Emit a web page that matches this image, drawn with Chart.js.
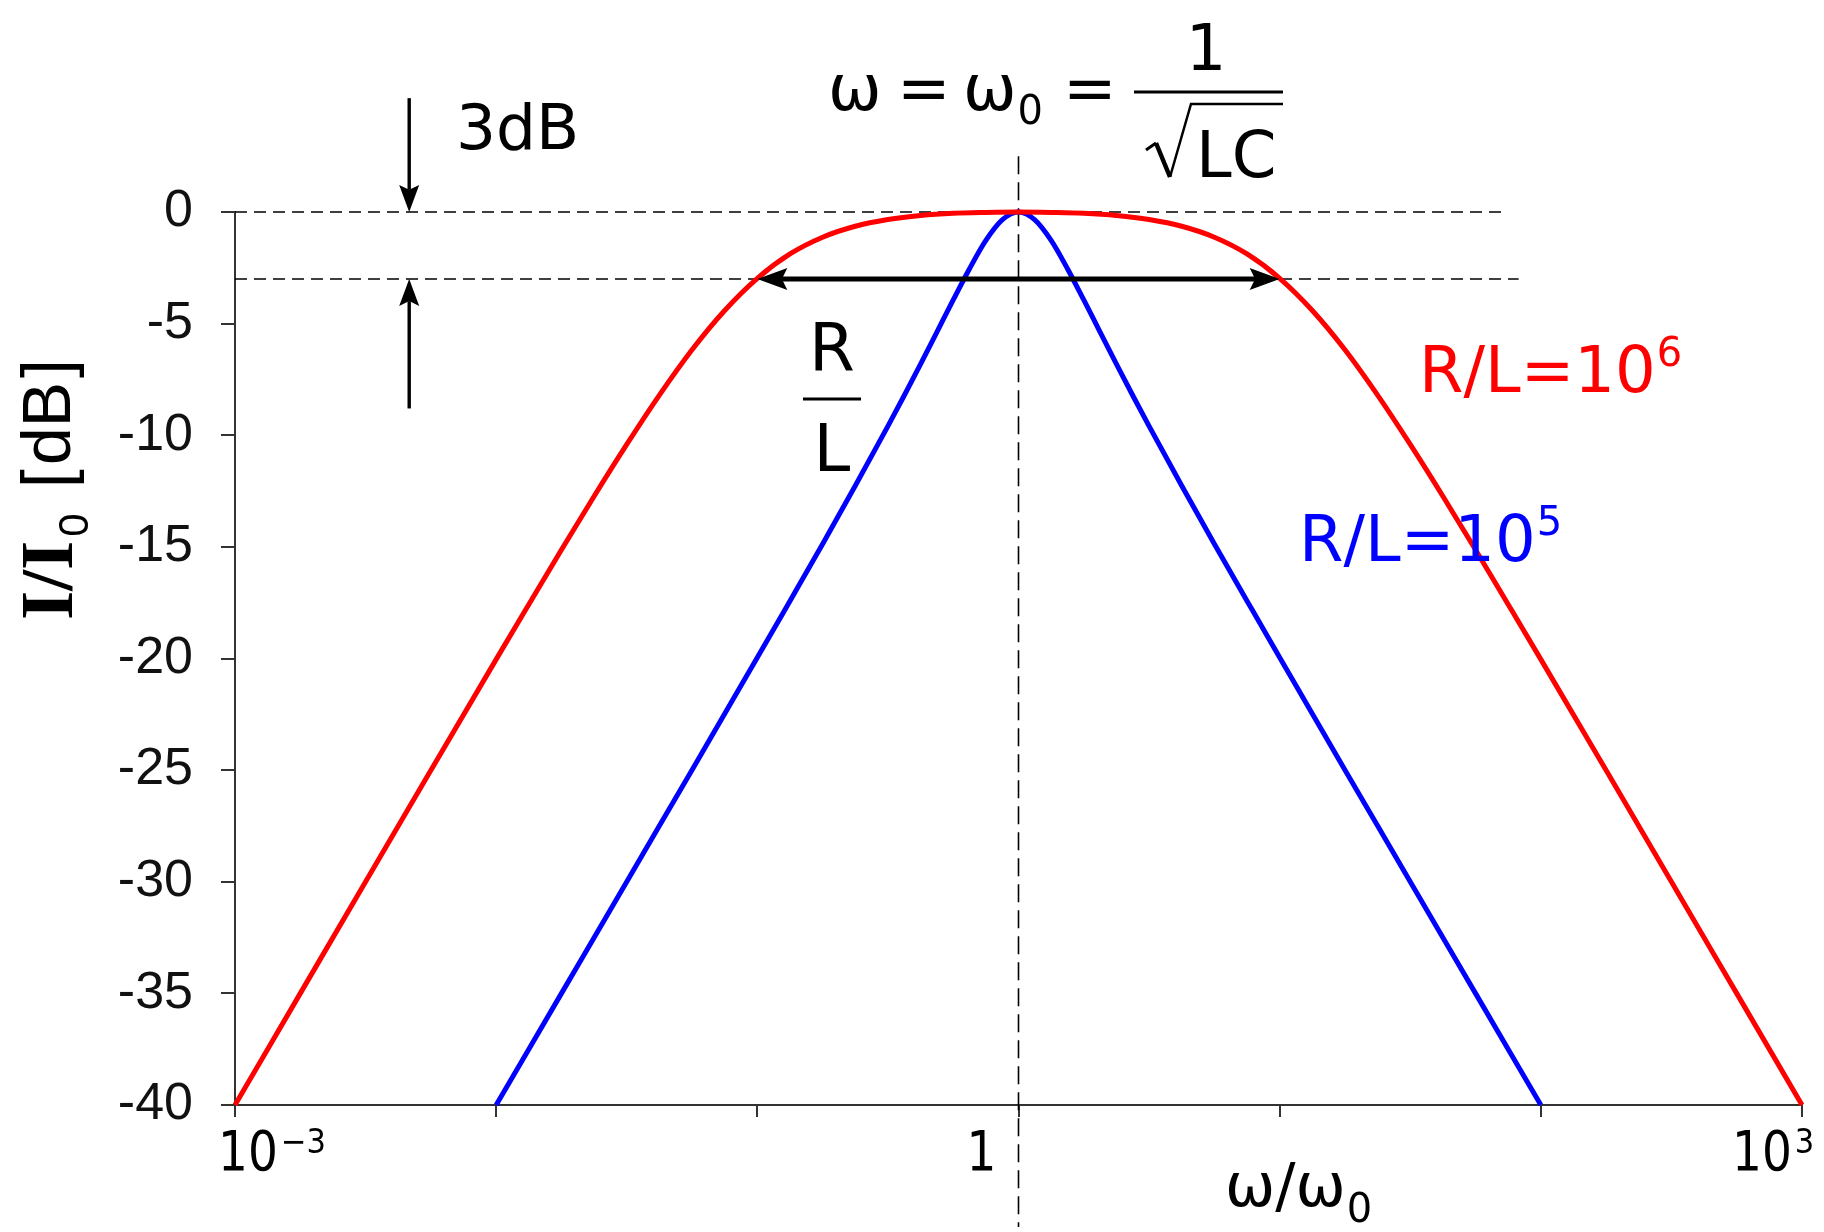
<!DOCTYPE html>
<html>
<head>
<meta charset="utf-8">
<script src="https://cdn.jsdelivr.net/npm/chart.js@4.4.1/dist/chart.umd.min.js"></script>
<style>
  html, body { margin: 0; padding: 0; background: #fff; }
  canvas { display: block; }
</style>
</head>
<body>
<canvas id="resonance" width="1824" height="1232" style="width:1824px;height:1232px"></canvas>
<script>
// Series resonance: current relative to its peak value, versus ω/ω0 (in decades)
const wideLogRatio = [-3, -2.75, -2.5, -2.25, -2, -1.875, -1.75, -1.625, -1.5, -1.375, -1.25, -1.125,
  -1, -0.875, -0.75, -0.625, -0.5, -0.375, -0.25, -0.125, 0, 0.125, 0.25, 0.375, 0.5, 0.625, 0.75,
  0.875, 1, 1.125, 1.25, 1.375, 1.5, 1.625, 1.75, 1.875, 2, 2.25, 2.5, 2.75, 3];
// R/L = 10^6
const wideDb = [-40, -35, -30, -25.01, -20.04, -17.58, -15.13, -12.73, -10.41, -8.2, -6.17, -4.41,
  -2.97, -1.88, -1.13, -0.64, -0.34, -0.16, -0.06, -0.02, 0, -0.02, -0.06, -0.16, -0.34, -0.64, -1.13,
  -1.88, -2.97, -4.41, -6.17, -8.2, -10.41, -12.73, -15.13, -17.58, -20.04, -25.01, -30, -35, -40];

const narrowLogRatio = [-2, -1.75, -1.5, -1.375, -1.25, -1.125, -1, -0.875, -0.75, -0.625, -0.5,
  -0.4375, -0.375, -0.3125, -0.25, -0.1875, -0.125, -0.0625, 0, 0.0625, 0.125, 0.1875, 0.25,
  0.3125, 0.375, 0.4375, 0.5, 0.625, 0.75, 0.875, 1, 1.125, 1.25, 1.375, 1.5, 1.75, 2];
// R/L = 10^5
const narrowDb = [-40, -35, -30, -27.49, -24.99, -22.47, -19.96, -17.42, -14.87, -12.26, -9.59,
  -8.22, -6.81, -5.38, -3.94, -2.54, -1.27, -0.35, 0, -0.35, -1.27, -2.54, -3.94,
  -5.38, -6.81, -8.22, -9.59, -12.26, -14.87, -17.42, -19.96, -22.47, -24.99, -27.49, -30, -35, -40];

const yTickValues = [0, -5, -10, -15, -20, -25, -30, -35, -40];
const xTickDecades = [-3, -2, -1, 0, 1, 2, 3];
const xTickLabels = [
  { decade: -3, base: '10', sup: '\u22123' },
  { decade: 0, base: '1', sup: '' },
  { decade: 3, base: '10', sup: '3' }
];

const halfPowerDb = -3;        // the 3 dB level
const bandEdges = [0.1, 10];   // where the R/L = 10^6 curve meets the 3 dB level

const toPoints = (logs, vals) => logs.map((u, i) => ({ x: Math.pow(10, u), y: vals[i] }));

const SANS = '"DejaVu Sans", Verdana, sans-serif';
const ARIAL = '"Liberation Sans", Arial, sans-serif';

function segment(ctx, x0, y0, x1, y1) {
  ctx.beginPath(); ctx.moveTo(x0, y0); ctx.lineTo(x1, y1); ctx.stroke();
}

function head(ctx, tx, ty, ang, len, w) {
  const bx = tx - len * Math.cos(ang), by = ty - len * Math.sin(ang);
  const nx = bx + len * 0.18 * Math.cos(ang), ny = by + len * 0.18 * Math.sin(ang);
  ctx.beginPath();
  ctx.moveTo(tx, ty);
  ctx.lineTo(bx + (w / 2) * Math.sin(ang), by - (w / 2) * Math.cos(ang));
  ctx.lineTo(nx, ny);
  ctx.lineTo(bx - (w / 2) * Math.sin(ang), by + (w / 2) * Math.cos(ang));
  ctx.closePath();
  ctx.fill();
  return [nx, ny];
}

function arrow(ctx, x0, y0, x1, y1, len, w, lw) {
  const ang = Math.atan2(y1 - y0, x1 - x0);
  const [bx, by] = head(ctx, x1, y1, ang, len, w);
  ctx.lineWidth = lw;
  segment(ctx, x0, y0, bx, by);
}

function doubleArrow(ctx, x0, y, x1, len, w, lw) {
  const [lb] = head(ctx, x0, y, Math.PI, len, w);
  const [rb] = head(ctx, x1, y, 0, len, w);
  ctx.lineWidth = lw;
  segment(ctx, lb, y, rb, y);
}

// text followed by a raised or lowered smaller run
function richText(ctx, x, y, main, small, size, smallSize, shift, family) {
  ctx.font = size + 'px ' + family;
  ctx.fillText(main, x, y);
  let w = ctx.measureText(main).width;
  if (small) {
    ctx.font = smallSize + 'px ' + family;
    ctx.fillText(small, x + w + 1, y + shift);
    w += ctx.measureText(small).width + 1;
  }
  return x + w;
}

// horizontally narrowed text, returns its drawn width
function narrowText(ctx, text, x, y, size, squeeze, align) {
  ctx.save();
  ctx.font = size + 'px ' + SANS;
  const w = ctx.measureText(text).width * squeeze;
  const left = align === 'center' ? x - w / 2 : x;
  ctx.translate(left, y);
  ctx.scale(squeeze, 1);
  ctx.textAlign = 'left';
  ctx.fillText(text, 0, 0);
  ctx.restore();
  return w;
}

const annotations = {
  id: 'annotations',
  beforeDatasetsDraw(chart) {
    const { ctx, chartArea: a, scales: { x, y } } = chart;
    ctx.save();
    ctx.strokeStyle = '#000';
    ctx.lineWidth = 1.6;
    ctx.setLineDash([12, 7]);
    const y0 = y.getPixelForValue(0);
    const y3 = y.getPixelForValue(halfPowerDb);
    segment(ctx, a.left, y0, x.getPixelForValue(Math.pow(10, 1.85)), y0);
    segment(ctx, a.left, y3, x.getPixelForValue(Math.pow(10, 1.915)), y3);
    ctx.setLineDash([18, 8]);
    const xr = x.getPixelForValue(1);
    segment(ctx, xr, y.getPixelForValue(2.5), xr, a.bottom + 122);
    ctx.restore();
  },
  afterDraw(chart) {
    const { ctx, scales: { x, y } } = chart;
    ctx.save();
    ctx.fillStyle = '#000';
    ctx.strokeStyle = '#000';
    ctx.textBaseline = 'alphabetic';
    ctx.textAlign = 'left';

    // bandwidth arrow between the 3 dB points
    const y3 = y.getPixelForValue(halfPowerDb);
    doubleArrow(ctx, x.getPixelForValue(bandEdges[0]), y3, x.getPixelForValue(bandEdges[1]), 30, 22, 5);

    // 3 dB marker arrows
    const ax = x.getPixelForValue(Math.pow(10, -2.333));
    arrow(ctx, ax, y.getPixelForValue(5.1), ax, y.getPixelForValue(0), 27, 20, 3.4);
    arrow(ctx, ax, y.getPixelForValue(-8.8), ax, y3, 27, 20, 3.4);
    ctx.font = '63px ' + SANS;
    ctx.fillText('3dB', 456, 149);

    // resonance condition
    const f = '64px ' + SANS;
    ctx.font = f;
    ctx.fillText('\u03C9', 828, 110);
    ctx.fillText('=', 897, 110);
    richText(ctx, 963, 110, '\u03C9', '0', 64, 40, 14, SANS);
    ctx.font = f;
    ctx.fillText('=', 1063, 110);
    ctx.lineWidth = 3;
    segment(ctx, 1134, 92, 1283, 92);
    ctx.textAlign = 'center';
    ctx.fillText('1', 1206, 70);
    ctx.textAlign = 'left';
    ctx.fillText('LC', 1196, 177);
    ctx.lineWidth = 3;
    segment(ctx, 1146, 150, 1156, 143);
    ctx.lineWidth = 4.5;
    segment(ctx, 1156, 143, 1170, 177);
    ctx.lineWidth = 2.5;
    ctx.beginPath();
    ctx.moveTo(1170, 177); ctx.lineTo(1191, 104); ctx.lineTo(1283, 104);
    ctx.stroke();

    // R/L next to the bandwidth arrow
    ctx.font = '66px ' + SANS;
    ctx.textAlign = 'center';
    ctx.fillText('R', 832, 370);
    ctx.fillText('L', 832, 471);
    ctx.lineWidth = 3;
    segment(ctx, 803, 399, 861, 399);
    ctx.textAlign = 'left';

    // curve labels
    ctx.fillStyle = '#ff0000';
    richText(ctx, 1419, 392, 'R/L=10', '6', 64, 40, -26, SANS);
    ctx.fillStyle = '#0000ff';
    richText(ctx, 1299, 561, 'R/L=10', '5', 64, 40, -26, SANS);

    // x tick labels
    ctx.fillStyle = '#000';
    const placement = { '-3': { dx: -17, align: 'left' }, '0': { dx: -37, align: 'center' }, '3': { dx: -70, align: 'left' } };
    xTickLabels.forEach(t => {
      const p = placement[String(t.decade)];
      const px = x.getPixelForValue(Math.pow(10, t.decade)) + p.dx;
      const w = narrowText(ctx, t.base, px, 1170, 56, 0.84, p.align);
      if (t.sup) narrowText(ctx, t.sup, px + w + 3, 1153, 34, 0.9, 'left');
    });

    // x axis title
    richText(ctx, 1225, 1206, '\u03C9/\u03C9', '0', 60, 40, 16, SANS);

    // y axis title
    ctx.save();
    ctx.translate(72, 620);
    ctx.rotate(-Math.PI / 2);
    ctx.font = 'bold 75px "Liberation Serif", "Times New Roman", serif';
    ctx.fillText('I/I', 0, 0);
    const iw = ctx.measureText('I/I').width;
    ctx.font = '42px ' + ARIAL;
    ctx.fillText('0', iw + 4, 16);
    ctx.font = '68px ' + ARIAL;
    let tx = 132;
    ['[', 'dB', ']'].forEach(part => {
      ctx.fillText(part, tx, -2);
      tx += ctx.measureText(part).width + 4;
    });
    ctx.restore();

    ctx.restore();
  }
};

new Chart(document.getElementById('resonance'), {
  type: 'line',
  data: {
    datasets: [
      {
        label: 'R/L=10^6',
        data: toPoints(wideLogRatio, wideDb),
        borderColor: '#ff0000',
        borderWidth: 5,
        pointRadius: 0,
        cubicInterpolationMode: 'monotone',
        clip: 3
      },
      {
        label: 'R/L=10^5',
        data: toPoints(narrowLogRatio, narrowDb),
        borderColor: '#0000ff',
        borderWidth: 5,
        pointRadius: 0,
        cubicInterpolationMode: 'monotone',
        clip: 3
      }
    ]
  },
  options: {
    responsive: false,
    animation: false,
    events: [],
    layout: { padding: { top: 212, right: 22, left: 0, bottom: 0 } },
    plugins: { legend: { display: false }, tooltip: { enabled: false } },
    scales: {
      x: {
        type: 'logarithmic',
        min: 1e-3,
        max: 1e3,
        afterBuildTicks: s => { s.ticks = xTickDecades.map(d => ({ value: Math.pow(10, d) })); },
        afterFit: s => { s.height = 127; },
        ticks: { display: false },
        grid: { drawOnChartArea: false, drawTicks: true, tickLength: 12, color: '#333', lineWidth: 2 },
        border: { color: '#333', width: 2 }
      },
      y: {
        min: -40,
        max: 0,
        afterBuildTicks: s => { s.ticks = yTickValues.map(v => ({ value: v })); },
        afterFit: s => { s.width = 235; },
        ticks: {
          color: '#111',
          padding: 28,
          font: { family: ARIAL, size: 52 }
        },
        grid: { drawOnChartArea: false, drawTicks: true, tickLength: 14, color: '#333', lineWidth: 2 },
        border: { color: '#333', width: 2 }
      }
    }
  },
  plugins: [annotations]
});
</script>
</body>
</html>
